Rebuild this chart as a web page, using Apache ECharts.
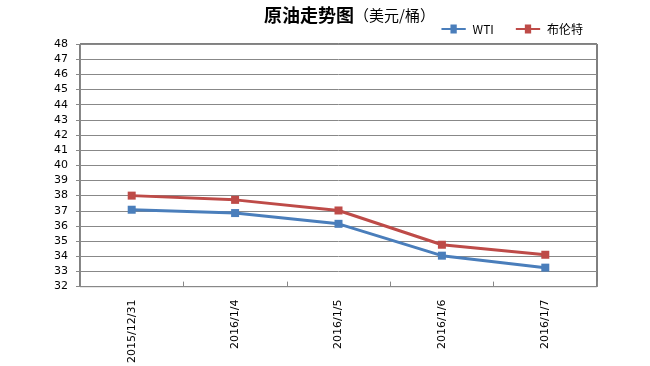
<!DOCTYPE html>
<html><head><meta charset="utf-8">
<script src="https://cdn.jsdelivr.net/npm/echarts@6/dist/echarts.min.js"></script>
<style>html,body{margin:0;padding:0;background:#fff}#c{width:650px;height:366px}</style>
</head><body><div id="c"></div>
<script>
const categories = ['2015/12/31','2016/1/4','2016/1/5','2016/1/6','2016/1/7'];
const wti = [37.07, 36.85, 36.14, 34.04, 33.25];
const brent = [38.0, 37.72, 37.02, 34.76, 34.1];
const yMin = 32, yMax = 48, yStep = 1;

const chart = echarts.init(document.getElementById('c'));
chart.setOption({
  animation: false,
  title: {
    text: '{a|原油走势图}{b|（美元/桶）}',
    left: 259, top: 1,
    textStyle: {
      rich: {
        a: {fontFamily: 'Noto Sans CJK SC', fontWeight: 'bold', fontSize: 18, color: '#000'},
        b: {fontFamily: 'Noto Sans CJK SC', fontWeight: 'normal', fontSize: 15, color: '#000'}
      }
    }
  },
  legend: {
    right: 62, top: 18, itemGap: 22, itemWidth: 28, itemHeight: 9,
    textStyle: {fontFamily: 'Noto Sans CJK SC', fontSize: 12, color: '#000'},
    data: [{name: 'WTI', icon: 'path://M0,4h10v-4h7v4h10v2h-10v4h-7v-4h-10z'}, {name: '布伦特', icon: 'path://M0,4h10v-4h7v4h10v2h-10v4h-7v-4h-10z'}]
  },
  grid: {left: 80, top: 44, width: 517, height: 243, show: true, borderColor: '#000', borderWidth: 1},
  xAxis: {
    type: 'category', data: categories, boundaryGap: true,
    axisLine: {lineStyle: {color: '#888', width: 1}},
    axisTick: {show: true, length: 5, inside: true, lineStyle: {color: '#888'}},
    axisLabel: {rotate: 90, color: '#000', fontFamily: 'DejaVu Sans', fontSize: 11, margin: 13}
  },
  yAxis: {
    type: 'value', min: yMin, max: yMax, interval: yStep,
    axisLine: {show: true, lineStyle: {color: '#888', width: 1}},
    axisTick: {show: true, length: 4, lineStyle: {color: '#888'}},
    splitLine: {lineStyle: {color: '#888', width: 1}},
    axisLabel: {color: '#000', fontFamily: 'DejaVu Sans', fontSize: 11, margin: 12}
  },
  series: [
    {name: 'WTI', type: 'line', data: wti, symbol: 'rect', symbolSize: 8,
     lineStyle: {color: '#4a7ebb', width: 3}, itemStyle: {color: '#4a7ebb'}},
    {name: '布伦特', type: 'line', data: brent, symbol: 'rect', symbolSize: 8,
     lineStyle: {color: '#be4b48', width: 3}, itemStyle: {color: '#be4b48'}}
  ]
});
</script></body></html>
